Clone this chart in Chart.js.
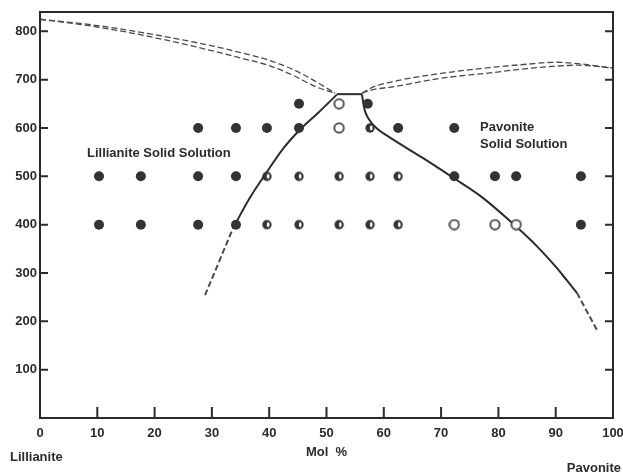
<!DOCTYPE html>
<html lang="en">
<head>
<meta charset="UTF-8">
<title>Lillianite - Pavonite</title>
<script src="https://cdn.jsdelivr.net/npm/chart.js"></script>
<style>
    html, body { margin: 0; padding: 0; background: #fff; }
    #wrap { width: 623px; height: 474px; }
</style>
</head>
<body>
<div id="wrap"><canvas id="chart" width="623" height="474"></canvas></div>
<script>
// axis ticks
const xTicks = [0, 10, 20, 30, 40, 50, 60, 70, 80, 90, 100];
const yTicks = [100, 200, 300, 400, 500, 600, 700, 800];

// experiments: [mol %, temperature]
const filledPoints = [
    [45.2, 650], [57.2, 650],
    [27.6, 600], [34.2, 600], [39.6, 600], [45.2, 600], [62.5, 600], [72.3, 600],
    [10.3, 500], [17.6, 500], [27.6, 500], [34.2, 500], [72.3, 500], [79.4, 500], [83.1, 500], [94.4, 500],
    [10.3, 400], [17.6, 400], [27.6, 400], [34.2, 400], [94.4, 400]
];
const halfPoints = [
    [57.6, 600],
    [39.6, 500], [45.2, 500], [52.2, 500], [57.6, 500], [62.5, 500],
    [39.6, 400], [45.2, 400], [52.2, 400], [57.6, 400], [62.5, 400]
];
const openPoints = [
    [52.2, 650], [52.2, 600], [72.3, 400], [79.4, 400], [83.1, 400]
];

// solvus curves
const solvusLeft = [[33.7, 393], [36.6, 455], [39.6, 509], [42.4, 557], [45.4, 597], [48.6, 632], [51.8, 669]];
const solvusTop = [[51.8, 670], [56.2, 670]];
const solvusRight = [[56.2, 669], [56.6, 640], [57.4, 618], [58.8, 599], [61.1, 580], [66.8, 538], [72.1, 497],
    [77, 458], [83.2, 395], [87, 352], [90, 313], [92, 284], [93.7, 259]];
const solvusLeftDashed = [[28.8, 254], [33.7, 393]];
const solvusRightDashed = [[93.7, 259], [97.2, 182]];

// melting curves (dashed)
const meltUpperLeft = [[0, 825], [10, 812], [20, 793], [30, 770], [35, 756], [40, 740], [44, 722], [48, 697], [51.5, 672]];
const meltLowerLeft = [[0, 825], [10, 809], [20, 787], [30, 760], [35, 745], [40, 729], [44, 710], [48, 686], [51.5, 672]];
const meltUpperRight = [[56.2, 672], [58, 684], [62, 697], [70, 713], [78.5, 725], [85, 732], [90, 736], [94, 733], [100, 724]];
const meltLowerRight = [[56.2, 672], [58, 679], [62, 686], [70, 703], [78.5, 714], [85, 723], [90, 728], [94, 730], [100, 724]];

const ink = '#2b2b2b';
const textFont = 'bold 13px "Liberation Sans", Arial, sans-serif';

function toXY(list) {
    return list.map(p => ({ x: p[0], y: p[1] }));
}

function makeMarker(kind) {
    const c = document.createElement('canvas');
    c.width = 12;
    c.height = 12;
    const g = c.getContext('2d');
    g.beginPath();
    g.arc(6, 6, 4.7, 0, Math.PI * 2);
    if (kind === 'half') {
        g.fillStyle = '#333';
        g.fill();
        g.fillStyle = '#fff';
        g.beginPath();
        g.ellipse(7.2, 6, 1.4, 2.4, 0, 0, Math.PI * 2);
        g.fill();
    } else {
        g.fillStyle = '#fff';
        g.fill();
        g.lineWidth = 2;
        g.strokeStyle = '#555';
        g.stroke();
    }
    return c;
}

function lineSet(data, dashed, width, smooth) {
    return {
        data: toXY(data),
        showLine: true,
        pointRadius: 0,
        borderColor: dashed ? '#4a4a4a' : ink,
        borderWidth: width,
        borderDash: dashed ? [6, 3] : [],
        tension: smooth ? 0.4 : 0,
        cubicInterpolationMode: smooth ? 'monotone' : 'default',
        fill: false,
        order: 2
    };
}

const framePlugin = {
    id: 'frame',
    afterDraw(chart) {
        const { ctx, chartArea: a, scales: { x, y } } = chart;
        ctx.save();
        ctx.strokeStyle = ink;
        ctx.lineWidth = 2;
        ctx.beginPath();
        ctx.moveTo(a.left, a.top);
        ctx.lineTo(a.right, a.top);
        ctx.lineTo(a.right, a.bottom);
        ctx.lineTo(a.left, a.bottom);
        ctx.closePath();
        ctx.stroke();

        ctx.beginPath();
        yTicks.forEach(v => {
            const py = y.getPixelForValue(v);
            ctx.moveTo(a.left, py);
            ctx.lineTo(a.left + 8, py);
            ctx.moveTo(a.right, py);
            ctx.lineTo(a.right - 8, py);
        });
        xTicks.slice(1, -1).forEach(v => {
            const px = x.getPixelForValue(v);
            ctx.moveTo(px, a.bottom);
            ctx.lineTo(px, a.bottom - 11);
        });
        ctx.stroke();

        ctx.fillStyle = ink;
        ctx.font = textFont;
        ctx.textBaseline = 'middle';
        ctx.textAlign = 'left';
        ctx.fillText('Lillianite Solid Solution', x.getPixelForValue(8.2), y.getPixelForValue(548));
        ctx.fillText('Pavonite', x.getPixelForValue(76.8), y.getPixelForValue(602));
        ctx.fillText('Solid Solution', x.getPixelForValue(76.8), y.getPixelForValue(565));

        ctx.fillText('Lillianite', 10, chart.height - 17);
        ctx.textAlign = 'right';
        ctx.fillText('Pavonite', chart.width - 2, chart.height - 6);
        ctx.restore();
    }
};

const ctx = document.getElementById('chart').getContext('2d');
new Chart(ctx, {
    type: 'scatter',
    data: {
        datasets: [
            { data: toXY(filledPoints), pointStyle: 'circle', pointRadius: 5, backgroundColor: '#333', borderColor: '#333', borderWidth: 0, order: 0 },
            { data: toXY(halfPoints), pointStyle: makeMarker('half'), order: 0 },
            { data: toXY(openPoints), pointStyle: makeMarker('open'), order: 0 },
            lineSet(solvusLeft, false, 2, true),
            lineSet(solvusTop, false, 2, false),
            lineSet(solvusRight, false, 2, true),
            lineSet(solvusLeftDashed, true, 2, false),
            lineSet(solvusRightDashed, true, 2, false),
            lineSet(meltUpperLeft, true, 1.3, true),
            lineSet(meltLowerLeft, true, 1.3, true),
            lineSet(meltUpperRight, true, 1.3, true),
            lineSet(meltLowerRight, true, 1.3, true)
        ]
    },
    options: {
        responsive: false,
        animation: false,
        events: [],
        layout: { padding: { top: 12, right: 10, bottom: 0, left: 0 } },
        plugins: { legend: { display: false }, tooltip: { enabled: false } },
        scales: {
            x: {
                type: 'linear',
                min: 0,
                max: 100,
                grid: { display: false, drawTicks: false },
                border: { display: false },
                afterBuildTicks: s => { s.ticks = xTicks.map(v => ({ value: v })); },
                afterFit: s => { s.height = 56; s.paddingLeft = 0; s.paddingRight = 0; },
                ticks: {
                    padding: 8,
                    color: ink,
                    font: { family: '"Liberation Sans", Arial, sans-serif', size: 13, weight: 'bold' },
                    maxRotation: 0
                },
                title: {
                    display: true,
                    text: 'Mol  %',
                    color: ink,
                    font: { family: '"Liberation Sans", Arial, sans-serif', size: 13, weight: 'bold' },
                    padding: { top: 0, bottom: 14 }
                }
            },
            y: {
                type: 'linear',
                min: 0,
                max: 840,
                grid: { display: false, drawTicks: false },
                border: { display: false },
                afterBuildTicks: s => { s.ticks = yTicks.map(v => ({ value: v })); },
                afterFit: s => { s.width = 40; s.paddingTop = 0; s.paddingBottom = 0; },
                ticks: {
                    padding: 3,
                    color: ink,
                    font: { family: '"Liberation Sans", Arial, sans-serif', size: 13, weight: 'bold' }
                }
            }
        }
    },
    plugins: [framePlugin]
});
</script>
</body>
</html>
